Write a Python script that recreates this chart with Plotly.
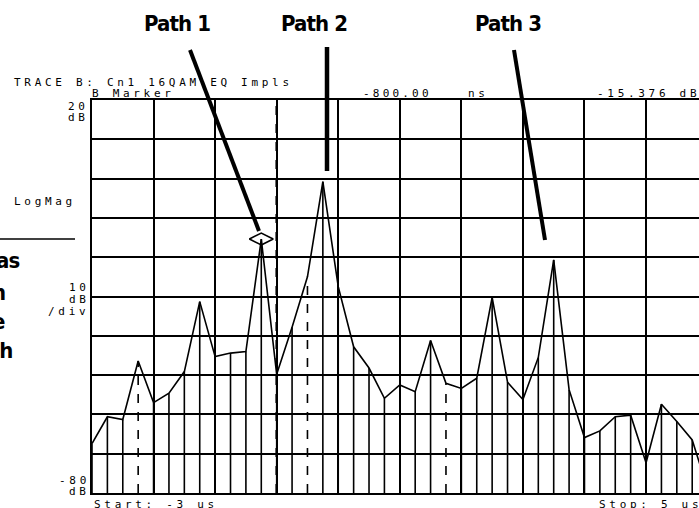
import plotly.graph_objects as go

# ---------------- data ----------------
time_us = [-3.0, -2.8, -2.6, -2.4, -2.2, -2.0, -1.8, -1.6, -1.4, -1.2,
           -1.0, -0.8, -0.6, -0.4, -0.2, 0.0, 0.2, 0.4, 0.6, 0.8,
           1.0, 1.2, 1.4, 1.6, 1.8, 2.0, 2.2, 2.4, 2.6, 2.8,
           3.0, 3.2, 3.4, 3.6, 3.8, 4.0, 4.2, 4.4, 4.6, 4.8, 5.0]
mag_db = [-67.4, -60.6, -61.3, -46.4, -57.0, -54.6, -49.1, -31.3, -45.3, -44.4,
          -44.0, -15.4, -49.8, -37.8, -25.0, -0.8, -27.5, -42.8, -48.2, -55.9,
          -52.5, -54.2, -41.2, -52.1, -53.4, -50.8, -30.2, -51.8, -56.2, -45.5,
          -20.7, -53.7, -65.9, -64.2, -60.6, -60.2, -72.3, -57.4, -61.8, -66.5, -79.0]
dashed_stems = [3, 14, 23]
marker_time = -0.8
marker_db = -15.376
marker_label = "-800.00"
marker_unit = "ns"
marker_value = "-15.376 dB"
path_labels = ["Path 1", "Path 2", "Path 3"]
side_words = ["as", "n", "e", "gh"]

# ---------------- geometry ----------------
W, H = 699, 508
L, T, B = 92, 100, 493
PW = W - L
PH = B - T
PX_PER_US = 61.56 / 0.8
X_RANGE = [-3.0, -3.0 + PW / PX_PER_US]
Y_RANGE = [-80, 20]


def px(xp):
    return (xp - L) / PW


def py(yp):
    return (B - yp) / PH


MONO = "DejaVu Sans Mono"
NARROW = "DejaVu Sans"

fig = go.Figure()

# stems
sx, sy, dx, dy = [], [], [], []
for i, (t, v) in enumerate(zip(time_us, mag_db)):
    if i in dashed_stems:
        dx += [t, t, None]
        dy += [-80, v, None]
    else:
        sx += [t, t, None]
        sy += [-80, v, None]
fig.add_trace(go.Scatter(x=sx, y=sy, mode="lines", line=dict(color="black", width=1.6),
                         hoverinfo="skip", showlegend=False))
fig.add_trace(go.Scatter(x=dx, y=dy, mode="lines", line=dict(color="black", width=1.6, dash="dash"),
                         hoverinfo="skip", showlegend=False))
# trace
fig.add_trace(go.Scatter(x=time_us, y=mag_db, mode="lines", line=dict(color="black", width=1.6),
                         showlegend=False, cliponaxis=True))
# marker
fig.add_trace(go.Scatter(x=[marker_time], y=[marker_db], mode="markers",
                         marker=dict(symbol="diamond-wide-open", size=17, color="black",
                                     line=dict(width=1.6, color="black")),
                         showlegend=False))

shapes = []
# dashed bold grid line
shapes.append(dict(type="line", xref="x", yref="y", x0=-0.6, x1=-0.6, y0=-80, y1=20,
                   line=dict(color="black", width=2.5, dash="dash")))
# pointer lines
for (x0, y0, x1, y1, w) in [(190, 50, 259, 231, 4), (327, 47, 327, 171, 4.5), (514, 50, 545, 240, 4)]:
    shapes.append(dict(type="line", xref="paper", yref="paper", x0=px(x0), y0=py(y0),
                       x1=px(x1), y1=py(y1), line=dict(color="black", width=w)))
# left rule
shapes.append(dict(type="line", xref="paper", yref="paper", x0=px(0), x1=px(75), y0=py(239), y1=py(239),
                   line=dict(color="black", width=1.5)))

ann = []


def mono(s, xl, yc, size=11, ls=3.7):
    ann.append(dict(text='<span style="letter-spacing:%spx">%s</span>' % (ls, s),
                    xref="paper", yref="paper", x=px(xl), y=py(yc),
                    xanchor="left", yanchor="middle", showarrow=False,
                    font=dict(family=MONO, size=size, color="black")))


mono("TRACE B: Cn1 16QAM EQ Impls", 12, 83)
mono("B Marker", 90, 94)
mono(marker_label, 361, 94, ls=3.2)
mono(marker_unit, 466, 94)
mono(marker_value, 595, 94)
mono("20", 66, 106)
mono("dB", 66, 118)
mono("LogMag", 12, 201)
mono("10", 67, 287)
mono("dB", 67, 299)
mono("/div", 46, 311)
mono("-80", 57, 480)
mono("dB", 67, 491)
mono("Start: -3 us", 92, 504)
mono("Stop: 5 us", 597, 504)

BOLD_STYLE = "font-stretch:condensed;letter-spacing:-0.9px"
for lab, xc in zip(path_labels, [177, 314, 508]):
    ann.append(dict(text='<span style="%s"><b>%s</b></span>' % (BOLD_STYLE, lab),
                    xref="paper", yref="paper", x=px(xc), y=py(23),
                    xanchor="center", yanchor="middle", showarrow=False,
                    font=dict(family=NARROW, size=22, color="black")))

for wd, xr, yc in zip(side_words, [21, 7, 7, 14], [260, 292, 321, 350]):
    ann.append(dict(text='<span style="%s"><b>%s</b></span>' % (BOLD_STYLE, wd),
                    xref="paper", yref="paper", x=px(xr), y=py(yc),
                    xanchor="right", yanchor="middle", showarrow=False,
                    font=dict(family=NARROW, size=22, color="black")))

fig.update_layout(
    width=W, height=H,
    margin=dict(l=L, r=0, t=T, b=H - B, pad=0),
    paper_bgcolor="white", plot_bgcolor="white",
    shapes=shapes, annotations=ann,
    xaxis=dict(range=X_RANGE, tick0=-3, dtick=0.8, showgrid=True, gridcolor="black", gridwidth=2,
               showticklabels=False, ticks="", zeroline=False,
               showline=True, linecolor="black", linewidth=2, mirror=True),
    yaxis=dict(range=Y_RANGE, tick0=-80, dtick=10, showgrid=True, gridcolor="black", gridwidth=2,
               showticklabels=False, ticks="", zeroline=False,
               showline=True, linecolor="black", linewidth=2, mirror=False),
)

fig.write_html("out.html", config={"displayModeBar": False},
               post_script="document.body.style.margin='0px';")
